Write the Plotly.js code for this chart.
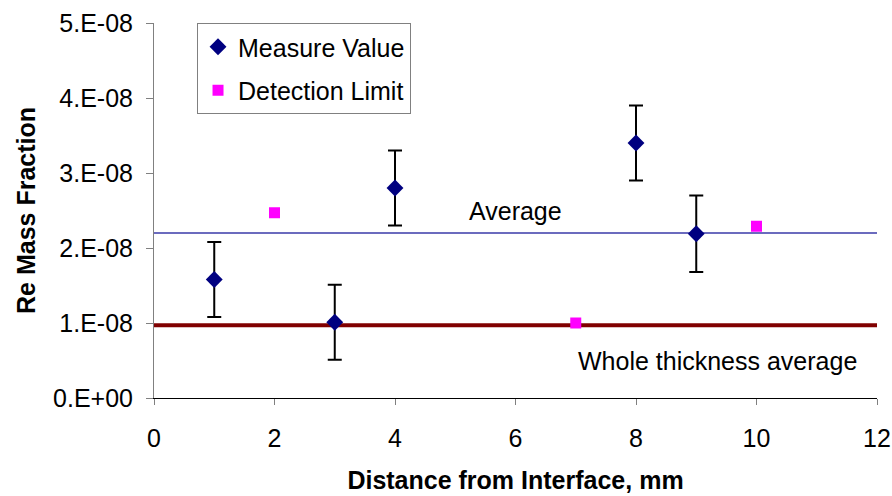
<!DOCTYPE html>
<html>
<head>
<meta charset="utf-8">
<script src="https://cdn.plot.ly/plotly-3.0.1.min.js"></script>
<style>html,body{margin:0;padding:0;background:#fff;}#chart{width:892px;height:496px;}</style>
</head>
<body>
<div id="chart"></div>
<script>
// Data
const measureX = [1, 3, 4, 8, 9];
const measureY = [1.58e-8, 1.01e-8, 2.8e-8, 3.4e-8, 2.19e-8];
const measureErr = [0.5e-8, 0.5e-8, 0.5e-8, 0.5e-8, 0.51e-8];
const detectX = [2, 7, 10];
const detectY = [2.47e-8, 1.0e-8, 2.29e-8];
const averageValue = 2.2e-8;
const wholeAverageValue = 0.97e-8;
const lineX = [0, 12];
const yTickVals = [0, 1e-8, 2e-8, 3e-8, 4e-8, 5e-8];
const yTickText = ["0.E+00", "1.E-08", "2.E-08", "3.E-08", "4.E-08", "5.E-08"];
const xTickVals = [0, 2, 4, 6, 8, 10, 12];

const font = "Liberation Sans, Arial, sans-serif";
const fs = 25;

const traces = [
  {x: lineX, y: lineX.map(() => averageValue), mode: 'lines', line: {color: '#3a3aa8', width: 1.3}, showlegend: false, hoverinfo: 'skip'},
  {x: lineX, y: lineX.map(() => wholeAverageValue), mode: 'lines', line: {color: '#800000', width: 4}, showlegend: false, hoverinfo: 'skip'},
  {x: measureX, y: measureY, name: 'Measure Value', mode: 'markers', type: 'scatter', legendgroup: 'a',
   marker: {symbol: 'diamond', color: '#000080', size: 13},
   error_y: {type: 'data', array: measureErr, visible: true, color: '#000000', thickness: 2, width: 7}},
  {x: detectX, y: detectY, name: 'Detection Limit', mode: 'markers', type: 'scatter', legendgroup: 'b',
   marker: {symbol: 'square', color: '#ff00ff', size: 11}}
];

const layout = {
  width: 892, height: 496,
  margin: {l: 154, r: 15, t: 23, b: 98},
  paper_bgcolor: '#ffffff', plot_bgcolor: '#ffffff',
  font: {family: font, color: '#000000', size: fs},
  showlegend: true,
  legend: {x: 0.0595, y: 1, xanchor: 'left', yanchor: 'top', bgcolor: '#ffffff', bordercolor: '#808080', borderwidth: 1,
    font: {family: font, size: fs}, traceorder: 'grouped', tracegroupgap: 8, itemwidth: 30},
  xaxis: {range: [0, 12], tickvals: xTickVals, ticks: 'outside', ticklen: 6, tickcolor: '#808080',
    showline: true, linecolor: '#000000', linewidth: 1, showgrid: false, zeroline: false,
    tickfont: {family: font, size: fs}, ticklabelstandoff: 12,
    title: {text: '<b>Distance from Interface, mm</b>', font: {family: font, size: fs}, standoff: 20}},
  yaxis: {range: [0, 5e-8], tickvals: yTickVals, ticktext: yTickText, ticks: 'outside', ticklen: 7, tickcolor: '#808080',
    showline: true, linecolor: '#808080', linewidth: 1, showgrid: false, zeroline: false,
    tickfont: {family: font, size: fs}, ticklabelstandoff: 8,
    title: {text: '<b>Re Mass Fraction</b>', font: {family: font, size: fs}, standoff: 10}},
  annotations: [
    {x: 6, y: 2.49e-8, xref: 'x', yref: 'y', text: 'Average', showarrow: false, font: {family: font, size: fs}},
    {x: 9.35, y: 0.49e-8, xref: 'x', yref: 'y', text: 'Whole thickness average', showarrow: false, font: {family: font, size: fs}}
  ]
};

Plotly.newPlot('chart', traces, layout, {displayModeBar: false, staticPlot: true});
</script>
</body>
</html>
